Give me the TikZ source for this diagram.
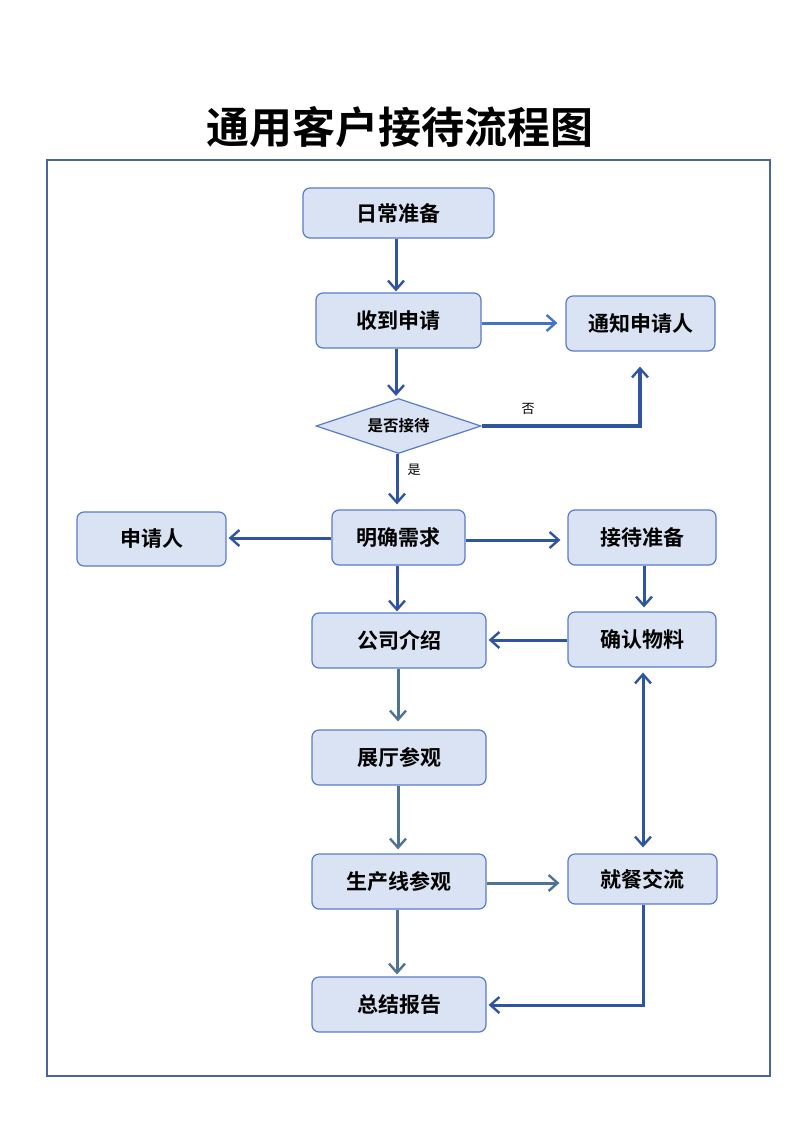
\documentclass[tikz,border=0pt]{standalone}
\usepackage{fontspec}
\setmainfont{Noto Sans CJK SC}
\newfontfamily\cjkb{Noto Sans CJK SC Bold}
\usetikzlibrary{arrows.meta,shapes.geometric}
\definecolor{boxfill}{HTML}{DAE3F3}
\definecolor{boxline}{HTML}{5B7BC8}
\definecolor{darkarr}{HTML}{2F55A0}
\definecolor{lightarr}{HTML}{4472C4}
\definecolor{steelarr}{HTML}{4F7391}
\definecolor{framec}{HTML}{4A64A0}
\tikzset{
  box/.style={draw=boxline, fill=boxfill, line width=1.2pt, rounded corners=7pt, font=\cjkb\fontsize{21}{25}\selectfont, inner sep=0pt},
  dia/.style={diamond, aspect=3, draw=boxline, fill=boxfill, line width=1.2pt, font=\cjkb\fontsize{15.5}{18}\selectfont, inner sep=0pt},
  arr/.style={-{Straight Barb[length=9pt,width=16pt,line width=2.4pt]}, line width=3pt, darkarr},
  larr/.style={arr, lightarr},
  sarr/.style={arr, steelarr},
  lbl/.style={font=\fontsize{13}{15}\selectfont}
}
\begin{document}
\begin{tikzpicture}[x=1pt,y=-1pt]
\useasboundingbox (0,0) rectangle (800,1132);
\node[font=\cjkb\fontsize{43}{48}\selectfont] (title) at (400,127) {通用客户接待流程图};
\draw[framec, line width=1.3pt] (47,160) rectangle (770,1076);

\node[box, minimum width=191pt, minimum height=50pt] (rc) at (398.5,213) {日常准备};
\node[box, minimum width=165pt, minimum height=55pt] (sq) at (398.5,320.5) {收到申请};
\node[box, minimum width=149pt, minimum height=55pt] (tz) at (640.5,323.5) {通知申请人};
\node[dia, minimum width=165pt, minimum height=55pt] (sf) at (398.5,426) {是否接待};
\node[box, minimum width=133pt, minimum height=55pt] (mq) at (398.5,537.5) {明确需求};
\node[box, minimum width=149pt, minimum height=54pt] (sqr) at (151.5,539) {申请人};
\node[box, minimum width=148pt, minimum height=55pt] (jz) at (642,537.5) {接待准备};
\node[box, minimum width=174pt, minimum height=55pt] (gs) at (399,640.5) {公司介绍};
\node[box, minimum width=148pt, minimum height=55pt] (qr) at (642,639.5) {确认物料};
\node[box, minimum width=174pt, minimum height=55pt] (zt) at (399,757.5) {展厅参观};
\node[box, minimum width=174pt, minimum height=55pt] (sc) at (399,881.5) {生产线参观};
\node[box, minimum width=149pt, minimum height=50pt] (jc) at (642.5,879) {就餐交流};
\node[box, minimum width=174pt, minimum height=55pt] (zj) at (399,1004.5) {总结报告};

\coordinate (nocorner) at (640,426);
\coordinate (jccorner) at (643,1005);

\draw[arr] (rc.south -| 396,0) -- ([yshift=1pt]sq.north -| 396,0);
\draw[larr] (sq.east |- 0,323) -- ([xshift=-8pt]tz.west |- 0,323);
\draw[arr] (sq.south -| 396,0) -- ([yshift=2pt]sf.north -| 396,0);
\draw[arr, line width=4pt] (sf.east) -- (nocorner) -- ([yshift=-15pt]tz.south -| nocorner);
\node[lbl] (no) at (528,409) {否};
\draw[arr] (sf.south -| 397,0) -- ([yshift=5pt]mq.north -| 397,0);
\node[lbl] (yes) at (414,470) {是};
\draw[arr] (mq.west |- 0,538) -- ([xshift=2pt]sqr.east |- 0,538);
\draw[arr] (mq.east |- 0,540) -- ([xshift=-7pt]jz.west |- 0,540);
\draw[arr] (mq.south -| 397,0) -- ([yshift=1pt]gs.north -| 397,0);
\draw[arr] (jz.south -| 644,0) -- ([yshift=4pt]qr.north -| 644,0);
\draw[arr] (qr.west |- 0,640) -- ([xshift=2pt]gs.east |- 0,640);
\draw[sarr] (gs.south -| 398,0) -- ([yshift=8pt]zt.north -| 398,0);
\draw[sarr] (zt.south -| 398,0) -- ([yshift=4pt]sc.north -| 398,0);
\draw[sarr] (sc.east |- 0,883) -- ([xshift=-8pt]jc.west |- 0,883);
\draw[sarr] (sc.south -| 397,0) -- ([yshift=2pt]zj.north -| 397,0);
\draw[arr, {Straight Barb[length=9pt,width=16pt,line width=2.4pt]}-{Straight Barb[length=9pt,width=16pt,line width=2.4pt]}] ([yshift=-5pt]qr.south -| 643,0) -- ([yshift=6pt]jc.north -| 643,0);
\draw[arr] (jc.south -| jccorner) -- (jccorner) -- ([xshift=2pt]zj.east |- jccorner);
\end{tikzpicture}
\end{document}
